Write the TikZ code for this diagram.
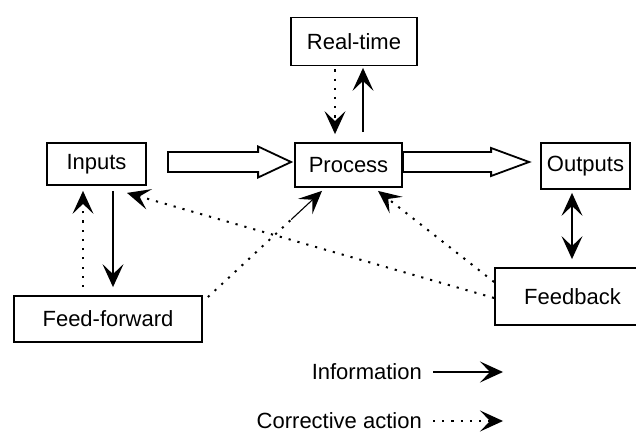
\documentclass[tikz,border=0pt]{standalone}
\usepackage{fontspec}
\setmainfont{Liberation Sans}
\usetikzlibrary{arrows.meta,calc}

\begin{document}
\begin{tikzpicture}[x=1pt,y=-1pt,
  chev/.tip={Stealth[length=23pt,width=21pt,inset=10pt,line width=1.5pt]},
  box/.style={draw,line width=1.8pt,inner sep=0pt,
    font=\fontsize{22}{26}\selectfont},
  lbl/.style={inner sep=0pt,font=\fontsize{22}{26}\selectfont},
  info/.style={line width=1.5pt,-chev},
  corr/.style={line width=2pt,dash pattern=on 2.2pt off 7pt,-chev},
  hollow/.style={draw,line width=1.8pt,line join=miter,fill=white}]

\useasboundingbox (0,0) rectangle (636,435);

% process blocks
\node[box,minimum width=126pt,minimum height=48pt] (realtime) at (354,41.5) {Real-time};
\node[box,minimum width=107pt,minimum height=44pt] (process) at (348.5,165) {Process};
\node[box,minimum width=99pt,minimum height=42pt] (inputs) at (96.5,164) {Inputs};
\node[box,minimum width=188pt,minimum height=46pt] (ff) at (108,319) {Feed-forward};
\node[box,minimum width=89pt,minimum height=46pt] (outputs) at (585.5,166) {Outputs};
\node[box,minimum width=155pt,minimum height=57pt] (feedback) at (572.5,296.5) {Feedback};

% main flow: hollow block arrows
\coordinate (a1s) at ($(inputs.east)+(21,-2)$);
\coordinate (a1e) at ($(process.west)+(-3,-3)$);
\draw[hollow] ($(a1s)+(0,-10)$) -- ($(a1e)+(-33,-10)$) -- ($(a1e)+(-33,-15.5)$)
  -- (a1e) -- ($(a1e)+(-33,15.5)$) -- ($(a1e)+(-33,10)$) -- ($(a1s)+(0,10)$) -- cycle;

\coordinate (a2s) at ($(process.east)+(0,-3)$);
\coordinate (a2e) at ($(outputs.west)+(-11,-4)$);
\draw[hollow] ($(a2s)+(0,-10)$) -- ($(a2e)+(-38,-10)$) -- ($(a2e)+(-38,-14)$)
  -- (a2e) -- ($(a2e)+(-38,14)$) -- ($(a2e)+(-38,10)$) -- ($(a2s)+(0,10)$) -- cycle;

% real-time loop
\draw[corr] ([xshift=-19pt,yshift=-3pt]realtime.south) -- ([xshift=-13.5pt,yshift=8pt]process.north);
\draw[info] ([xshift=14.5pt,yshift=10pt]process.north) -- ([xshift=9pt,yshift=-1.5pt]realtime.south);

% feed-forward loop
\draw[corr] ([xshift=-25pt,yshift=8pt]ff.north) -- ([xshift=-13.5pt,yshift=-5pt]inputs.south);
\draw[info] ([xshift=16.5pt,yshift=-5pt]inputs.south) -- ([xshift=5pt,yshift=8pt]ff.north);
\coordinate (ffs) at ([xshift=5pt,yshift=-2pt]ff.north east);
\coordinate (ffe) at ([xshift=-26.5pt,yshift=-3pt]process.south);
\draw[corr,-] (ffs) -- ($(ffe)!42pt!(ffs)$);
\draw[line width=1.1pt,-chev] ($(ffe)!42pt!(ffs)$) -- (ffe);

% feedback loop
\draw[line width=1.5pt,chev-chev] ([xshift=-13.5pt,yshift=-3pt]outputs.south) -- ([xshift=-0.5pt,yshift=8pt]feedback.north);
\draw[corr] ([yshift=14.5pt]feedback.west) -- ([xshift=29.5pt,yshift=-3pt]process.south);
\draw[corr] ([yshift=-1.5pt]feedback.west) -- ([xshift=30.5pt,yshift=-7pt]inputs.south);

% legend
\node[lbl,anchor=east] (legi) at (422,372) {Information};
\draw[info] ([xshift=11pt]legi.east) -- ([xshift=81pt]legi.east);
\node[lbl,anchor=east] (legc) at (422,421) {Corrective action};
\draw[corr] ([xshift=11pt]legc.east) -- ([xshift=81pt]legc.east);

\end{tikzpicture}
\end{document}
